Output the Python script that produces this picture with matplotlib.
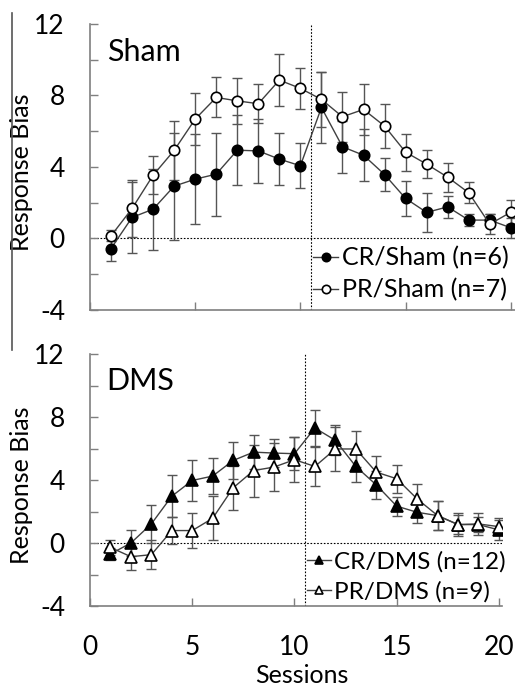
import numpy as np
import matplotlib
matplotlib.use("Agg")
import matplotlib.pyplot as plt
from matplotlib.lines import Line2D

plt.rcParams['font.family'] = ['Lato', 'DejaVu Sans']
plt.rcParams['axes.unicode_minus'] = False

# data
sessions = np.arange(1, 21)

cr_sham = [-0.56, 1.18, 1.64, 2.93, 3.32, 3.6, 4.94, 4.9, 4.44, 4.07,
           7.33, 5.13, 4.66, 3.58, 2.24, 1.46, 1.77, 1.03, 1.03, 0.6]
cr_sham_err = [0.7, 2.0, 2.26, 3.0, 2.5, 2.33, 1.95, 1.8, 1.47, 1.26,
               2.0, 1.45, 1.44, 0.92, 1.0, 1.1, 0.6, 0.35, 0.35, 0.55]
pr_sham = [0.15, 1.68, 3.54, 4.93, 6.68, 7.89, 7.7, 7.54, 8.86, 8.4,
           7.78, 6.81, 7.22, 6.29, 4.83, 4.16, 3.43, 2.56, 0.8, 1.47]
pr_sham_err = [0.3, 1.58, 1.05, 1.64, 1.45, 1.12, 1.3, 1.08, 1.46, 1.15,
               1.52, 1.4, 1.45, 1.25, 1.03, 0.79, 0.82, 0.6, 0.55, 0.67]

cr_dms = [-0.7, 0.0, 1.21, 2.97, 3.97, 4.25, 5.24, 5.77, 5.71, 5.67,
          7.3, 6.52, 4.86, 3.69, 2.34, 1.95, 1.74, 1.17, 1.17, 0.83]
cr_dms_err = [0.4, 0.85, 1.21, 1.32, 1.28, 1.14, 1.17, 1.1, 0.9, 1.06,
              1.13, 0.95, 0.96, 0.9, 0.6, 0.7, 0.9, 0.6, 0.5, 0.63]
pr_dms = [-0.28, -0.87, -0.74, 0.79, 0.79, 1.57, 3.5, 4.6, 4.82, 5.29,
          4.86, 5.97, 5.97, 4.5, 4.08, 2.8, 1.74, 1.17, 1.21, 1.04]
pr_dms_err = [0.5, 0.85, 0.9, 0.85, 1.13, 1.4, 1.4, 1.65, 1.55, 1.43,
              1.25, 1.38, 1.15, 1.0, 0.9, 0.96, 0.9, 0.75, 0.7, 0.53]

fig = plt.figure(figsize=(5.15, 6.86), dpi=100)
ax1 = fig.add_axes([90/515, 1-310/686, 425/515, 286/686])
ax2 = fig.add_axes([90/515, 1-606/686, 412/515, 252/686])

def style(ax, xmax, show_x):
    ax.set_xlim(0, xmax)
    ax.set_ylim(-4, 12)
    for s in ['top', 'right']:
        ax.spines[s].set_visible(False)
    for s in ['left', 'bottom']:
        ax.spines[s].set_color('#7f7f7f')
        ax.spines[s].set_linewidth(1.2)
    ax.set_yticks([-4, 0, 4, 8, 12])
    ax.set_yticks([-2, 2, 6, 10], minor=True)
    ax.set_xticks([0, 5, 10, 15, 20])
    ax.tick_params(axis='both', which='both', direction='in', length=6,
                   width=1, color='#7f7f7f', labelsize=19)
    ax.tick_params(axis='y', pad=18)
    ax.tick_params(axis='x', pad=21)
    if not show_x:
        ax.set_xticklabels([])
    ax.axhline(0, color='black', lw=0.8, ls=(0, (1.5, 1.5)), zorder=1)
    ax.axvline(10.5, color='black', lw=0.8, ls=(0, (1.5, 1.5)), zorder=1)
    ax.set_ylabel('Response Bias', fontsize=18)
    ax.yaxis.set_label_coords(-57/(ax.get_position().width*515), 0.48)

def series(ax, y, err, marker, face, label, ms):
    ax.errorbar(sessions, y, yerr=err, fmt='none', ecolor='#555555',
                elinewidth=1, capsize=3.5, capthick=1, zorder=2)
    ax.plot(sessions, y, color='#404040', lw=1, marker=marker, ms=ms,
            mfc=face, mec='black', mew=1.2, label=label, zorder=3)

leg_kw = dict(loc='lower right', frameon=False, fontsize=18, handlelength=1.0,
              handletextpad=0.15, labelspacing=0.35, markerscale=0.8,
              borderaxespad=0, borderpad=0)

style(ax1, 20.2, False)
series(ax1, cr_sham, cr_sham_err, 'o', 'black', 'CR/Sham (n=6)', 7.5)
series(ax1, pr_sham, pr_sham_err, 'o', 'white', 'PR/Sham (n=7)', 7.5)
ax1.text(0.04, 0.95, 'Sham', transform=ax1.transAxes, fontsize=22,
         va='top', ha='left')
ax1.legend(bbox_to_anchor=(0.985, 0.03), **leg_kw)

style(ax2, 20.15, True)
series(ax2, cr_dms, cr_dms_err, '^', 'black', 'CR/DMS (n=12)', 8)
series(ax2, pr_dms, pr_dms_err, '^', 'white', 'PR/DMS (n=9)', 8)
ax2.text(0.04, 0.95, 'DMS', transform=ax2.transAxes, fontsize=22,
         va='top', ha='left')
ax2.legend(bbox_to_anchor=(1.01, 0.015), **dict(leg_kw, fontsize=17.5))
ax2.set_xlabel('Sessions', fontsize=18)
ax2.xaxis.set_label_coords(0.515, -0.232)

# stray vertical rule on the left side of the original figure
fig.add_artist(Line2D([12/515, 12/515], [1-13/686, 1-350/686],
                      color='#555555', lw=1.2, transform=fig.transFigure))

fig.savefig('out.png', dpi=100)
